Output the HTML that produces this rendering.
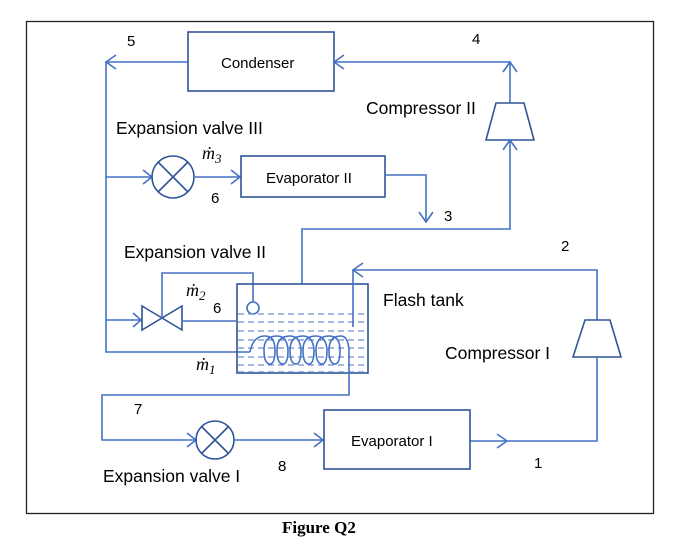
<!DOCTYPE html>
<html><head><style>
body{margin:0;background:#fff;}
svg text{font-family:"Liberation Sans",sans-serif;font-size:15px;fill:#000;}
.l{font-size:17.5px;}
.m{font-family:"Liberation Serif",serif;font-style:italic;font-size:18px;}
</style></head><body>
<svg width="682" height="548" xmlns="http://www.w3.org/2000/svg">
<rect x="26.5" y="21.5" width="627" height="492" fill="none" stroke="#222" stroke-width="1.3"/>
<g fill="none" stroke="#4472c4" stroke-width="1.6">
<rect x="188" y="32" width="146" height="59" stroke="#2f5597"/>
<polyline points="510,103 510,62 334,62"/>
<polyline points="344,55 334,62 344,69"/>
<polyline points="503,72 510,62 517,72"/>
<polyline points="188,62 106,62 106,352 250,352"/>
<polyline points="116,55 106,62 116,69"/>
<polygon points="496,103 524,103 534,140 486,140" stroke="#2f5597"/>
<polyline points="510,140 510,229 302,229 302,284"/>
<polyline points="503,150 510,140 517,150"/>
<line x1="106" y1="177" x2="152" y2="177"/>
<polyline points="143,170 152,177 143,184"/>
<circle cx="173" cy="177" r="21" stroke="#2f5597"/>
<line x1="158" y1="162" x2="188" y2="192" stroke="#2f5597"/>
<line x1="188" y1="162" x2="158" y2="192" stroke="#2f5597"/>
<line x1="194" y1="177" x2="240" y2="177"/>
<polyline points="231,170 240,177 231,184"/>
<rect x="241" y="156" width="144" height="41" stroke="#2f5597"/>
<polyline points="385,175 426,175 426,222"/>
<polyline points="419,212 426,222 433,212"/>
<line x1="106" y1="320" x2="141" y2="320"/>
<polyline points="133,313 141,320 133,327"/>
<polygon points="142,306 182,330 182,306 142,330" stroke="#2f5597"/>
<line x1="182" y1="321" x2="236" y2="321"/>
<polyline points="162,318 162,273 253,273 253,302"/>
<circle cx="253" cy="308" r="6"/>
<rect x="237" y="284" width="131" height="89" stroke="#2f5597"/>
<g stroke-dasharray="6,4" stroke-width="1.2" stroke="#6f8fd0">
<line x1="238" y1="314" x2="367" y2="314"/>
<line x1="238" y1="322" x2="367" y2="322"/>
<line x1="238" y1="331" x2="367" y2="331"/>
<line x1="238" y1="340" x2="367" y2="340"/>
<line x1="238" y1="348" x2="367" y2="348"/>
<line x1="238" y1="357" x2="367" y2="357"/>
<line x1="238" y1="365" x2="367" y2="365"/>
<line x1="238" y1="372" x2="367" y2="372"/>
</g>
<path d="M250 352 Q253 336 265 336 Q275 336 275 350 Q275 364 270 364 Q264 364 264 350 Q264 336 277 336 Q287 336 288 350 Q288 364 283 364 Q277 364 277 350 Q277 336 290 336 Q300 336 301 350 Q301 364 296 364 Q290 364 290 350 Q290 336 303 336 Q313 336 314 350 Q314 364 309 364 Q303 364 303 350 Q303 336 316 336 Q326 336 327 350 Q327 364 322 364 Q316 364 316 350 Q316 336 329 336 Q340 336 340 350 Q340 364 335 364 Q329 364 329 350 Q329 336 341 336 Q348 336 349 350 L349 395 L102 395 L102 440 L196 440"/>
<polyline points="187,433 196,440 187,447"/>
<polyline points="597,320 597,270 353,270 353,327"/>
<polyline points="363,263 353,270 363,277"/>
<polygon points="585,320 610,320 621,357 573,357" stroke="#2f5597"/>
<polyline points="470,441 597,441 597,357"/>
<polyline points="497,434 507,441 497,448"/>
<circle cx="215" cy="440" r="19" stroke="#2f5597"/>
<line x1="202" y1="427" x2="228" y2="453" stroke="#2f5597"/>
<line x1="228" y1="427" x2="202" y2="453" stroke="#2f5597"/>
<line x1="234" y1="440" x2="323" y2="440"/>
<polyline points="314,433 323,440 314,447"/>
<rect x="324" y="410" width="146" height="59" stroke="#2f5597"/>
</g>
<text x="221" y="68">Condenser</text>
<text x="127" y="46">5</text>
<text x="472" y="44">4</text>
<text class="l" x="366" y="114">Compressor II</text>
<text class="l" x="116" y="134">Expansion valve III</text>
<text class="m" x="202" y="159">ṁ<tspan font-size="13" dy="4">3</tspan></text>
<text x="211" y="203">6</text>
<text x="266" y="183">Evaporator II</text>
<text x="444" y="221">3</text>
<text class="l" x="124" y="258">Expansion valve II</text>
<text x="561" y="251">2</text>
<text class="m" x="186" y="296">ṁ<tspan font-size="13" dy="4">2</tspan></text>
<text x="213" y="313">6</text>
<text class="l" x="383" y="306">Flash tank</text>
<text class="l" x="445" y="359">Compressor I</text>
<text class="m" x="196" y="370">ṁ<tspan font-size="13" dy="4">1</tspan></text>
<text x="134" y="414">7</text>
<text x="351" y="446">Evaporator I</text>
<text x="278" y="471">8</text>
<text x="534" y="468">1</text>
<text class="l" x="103" y="482">Expansion valve I</text>
<text x="282" y="533" style="font-family:'Liberation Serif',serif;font-weight:bold;font-size:17px">Figure Q2</text>
</svg>
</body></html>
